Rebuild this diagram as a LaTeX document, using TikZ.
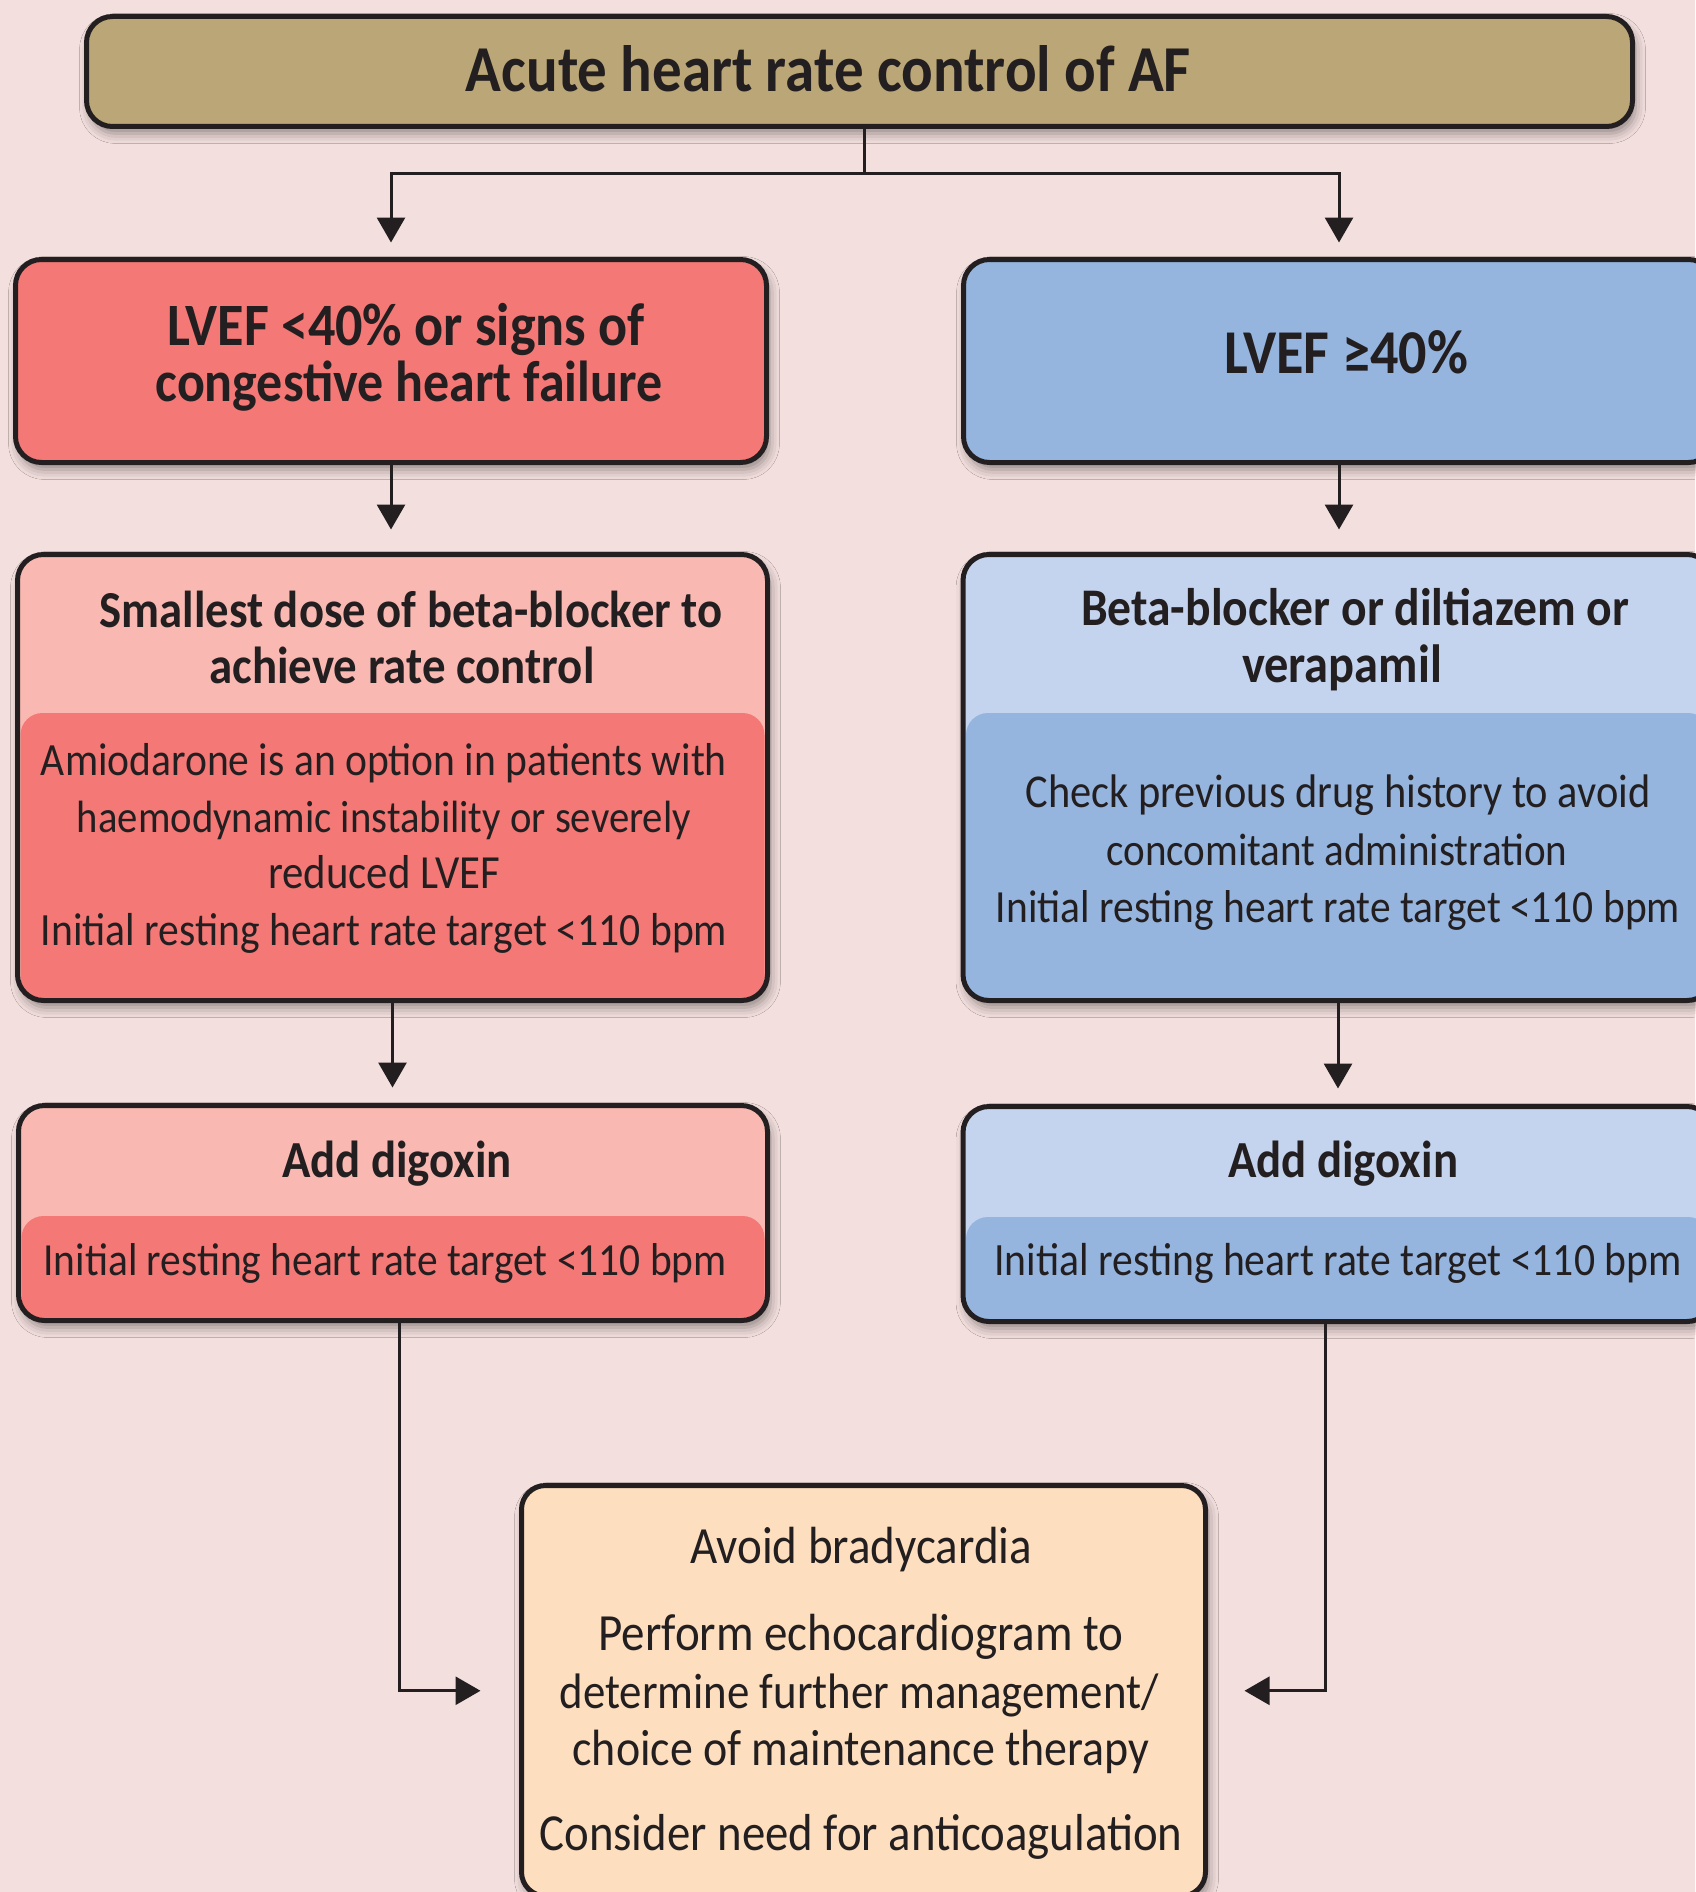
\documentclass[tikz,border=0pt]{standalone}
\usepackage{fontspec}
\usepackage{graphicx}
\setmainfont{Carlito}[FakeStretch=0.9]
\usetikzlibrary{arrows.meta,shadows.blur,calc}

\definecolor{bg}{RGB}{243,224,222}
\definecolor{ink}{RGB}{35,31,32}
\definecolor{tan}{RGB}{187,166,119}
\definecolor{reddark}{RGB}{243,120,118}
\definecolor{redlight}{RGB}{249,185,178}
\definecolor{bluedark}{RGB}{149,180,222}
\definecolor{bluelight}{RGB}{197,212,238}
\definecolor{peach}{RGB}{253,223,191}

% set one line of text to a given width (in pt)
\newcommand{\fitline}[2]{\resizebox{#1pt}{!}{#2}}

\begin{document}
\begin{tikzpicture}[x=1pt,y=-1pt,
  box/.style={draw=ink, line width=5pt, rounded corners=26pt, inner sep=0pt,
    blur shadow={shadow xshift=3pt, shadow yshift=-7pt, shadow blur radius=10pt, shadow opacity=40}},
  split/.style 2 args={path picture={
    \fill[#1, rounded corners=22pt]
      ($(path picture bounding box.north west)+(3,#2)$) rectangle
      ($(path picture bounding box.south east)+(-3,60)$);}},
  txt/.style={anchor=base, inner sep=0pt, text=ink, font=\fontsize{40}{48}\selectfont},
  btxt/.style={txt, font=\fontsize{40}{48}\selectfont\bfseries},
  wire/.style={draw=ink, line width=3pt},
  arrow/.style={wire, -{Triangle[length=25pt,width=28pt]}}
]
\useasboundingbox[fill=bg] (0,0) rectangle (1695,1892);

% ---- boxes ----
\node[box, fill=tan, minimum width=1546pt, minimum height=110pt] (title) at (859.5,71.5) {};
\node[box, fill=reddark, minimum width=751pt, minimum height=203pt] (lvefL) at (391,361) {};
\node[box, fill=bluedark, minimum width=751pt, minimum height=203pt] (lvefR) at (1339,361) {};
\node[box, fill=redlight, split={reddark}{158.5}, minimum width=750pt, minimum height=446pt] (doseL) at (392.5,777.5) {};
\node[box, fill=bluelight, split={bluedark}{158.5}, minimum width=750pt, minimum height=446pt] (doseR) at (1338,777.5) {};
\node[box, fill=redlight, split={reddark}{110.5}, minimum width=749pt, minimum height=215pt] (digL) at (393,1213) {};
\node[box, fill=bluelight, split={bluedark}{110.5}, minimum width=750pt, minimum height=215pt] (digR) at (1338,1214) {};
\node[box, fill=peach, rounded corners=24pt, minimum width=684pt, minimum height=410.5pt] (final) at (863.5,1690.75) {};

% ---- texts ----
\node[btxt] (tTitle) at (828.5,92) {\fitline{725}{Acute heart rate control of AF}};
\node[btxt] (tLvefL1) at (406,345) {\fitline{478}{LVEF <40\% or signs of}};
\node[btxt] (tLvefL2) at (409,401) {\fitline{507}{congestive heart failure}};
\node[btxt] (tLvefR) at (1346,373) {\fitline{244}{LVEF ≥40\%}};

\node[btxt] (tDoseL1) at (411,627) {\fitline{623}{Smallest dose of beta-blocker to}};
\node[btxt] (tDoseL2) at (402,683) {\fitline{385}{achieve rate control}};
\node[txt] (tDoseL3) at (384,775) {\fitline{686}{Amiodarone is an option in patients with}};
\node[txt] (tDoseL4) at (384,832) {\fitline{614}{haemodynamic instability or severely}};
\node[txt] (tDoseL5) at (384,888) {\fitline{232}{reduced LVEF}};
\node[txt] (tDoseL6) at (384,945) {\fitline{686}{Initial resting heart rate target <110 bpm}};

\node[btxt] (tDoseR1) at (1355,625) {\fitline{548}{Beta-blocker or diltiazem or}};
\node[btxt] (tDoseR2) at (1342,682) {\fitline{200}{verapamil}};
\node[txt] (tDoseR3) at (1338,807) {\fitline{625}{Check previous drug history to avoid}};
\node[txt] (tDoseR4) at (1337,865) {\fitline{461}{concomitant administration}};
\node[txt] (tDoseR5) at (1338,922) {\fitline{684}{Initial resting heart rate target <110 bpm}};

\node[btxt] (tDigL1) at (397,1177) {\fitline{230}{Add digoxin}};
\node[txt] (tDigL2) at (385,1275) {\fitline{683}{Initial resting heart rate target <110 bpm}};
\node[btxt] (tDigR1) at (1343,1177) {\fitline{230}{Add digoxin}};
\node[txt] (tDigR2) at (1338,1275) {\fitline{687}{Initial resting heart rate target <110 bpm}};

\node[txt] (tFin1) at (861,1563) {\fitline{342}{Avoid bradycardia}};
\node[txt] (tFin2) at (861,1650) {\fitline{525}{Perform echocardiogram to}};
\node[txt] (tFin3) at (859,1708) {\fitline{599}{determine further management/}};
\node[txt] (tFin4) at (861,1765) {\fitline{577}{choice of maintenance therapy}};
\node[txt] (tFin5) at (861,1850) {\fitline{643}{Consider need for anticoagulation}};

% ---- connectors ----
\coordinate (fork) at (864,173);
\coordinate (elbowL) at (399,1690);
\coordinate (elbowR) at (1325,1690);

\draw[wire] (title.south -| fork) -- (fork);
\draw[arrow, shorten >=14.5pt] (fork) -| (lvefL.north);
\draw[arrow, shorten >=14.5pt] (fork) -| (lvefR.north);
\draw[arrow, shorten >=22.5pt] (lvefL.south) -- (lvefL.south |- doseL.north);
\draw[arrow, shorten >=22.5pt] (lvefR.south) -- (lvefR.south |- doseR.north);
\draw[arrow, shorten >=15.5pt] (doseL.south) -- (doseL.south |- digL.north);
\draw[arrow, shorten >=15.5pt] (doseR.south) -- (doseR.south |- digR.north);
\draw[arrow, shorten >=38.5pt] (digL.south -| elbowL) |- (final.west);
\draw[arrow, shorten >=36.5pt] (digR.south -| elbowR) |- (final.east);
\end{tikzpicture}
\end{document}
